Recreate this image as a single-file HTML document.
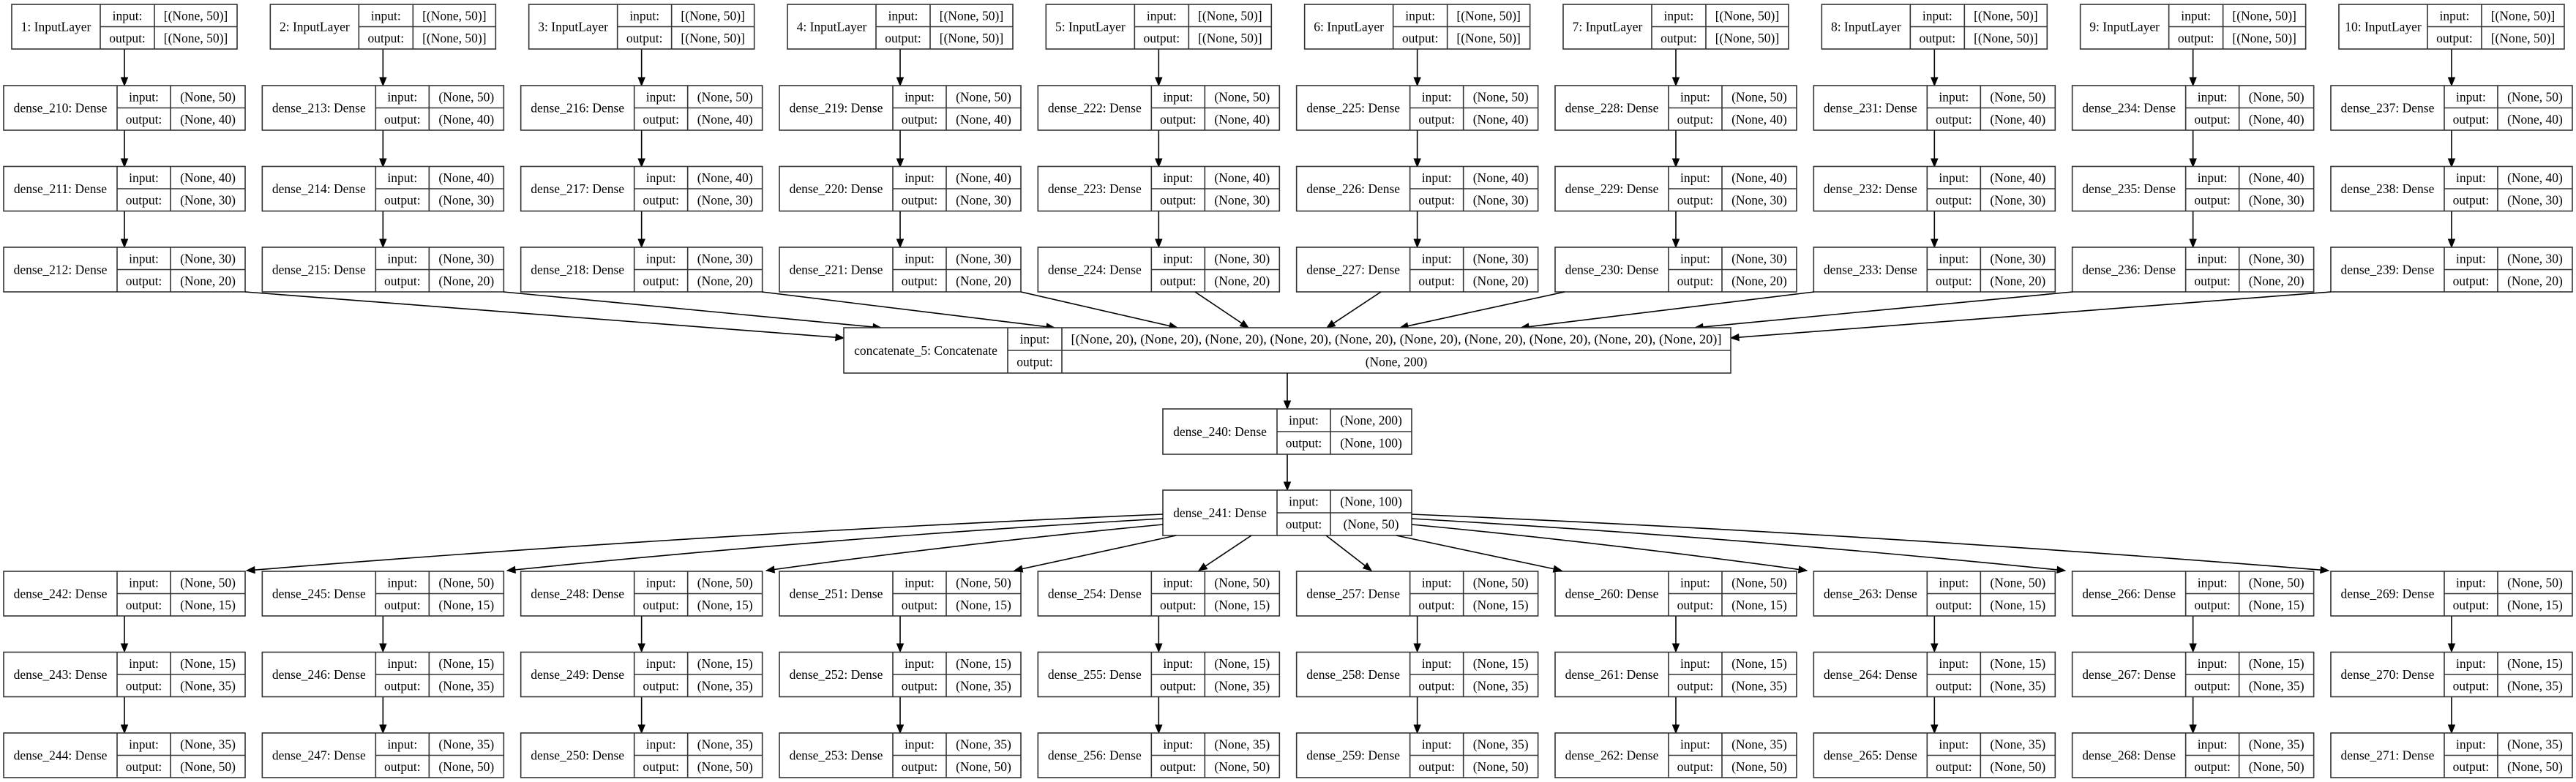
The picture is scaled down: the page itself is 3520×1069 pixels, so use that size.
<!DOCTYPE html>
<html><head><meta charset="utf-8"><style>
html,body{margin:0;padding:0;background:#fff;}
svg{display:block;}
text{font-family:"Liberation Serif",serif;font-size:17.5px;fill:#000;}
</style></head><body>
<svg id="s" width="3520" height="1069" xmlns="http://www.w3.org/2000/svg"></svg>
<script>
const s=document.getElementById('s');let h='';
const R=(x,y,w,hh)=>h+=`<rect x="${x}" y="${y}" width="${w}" height="${hh}" fill="#fff" stroke="#333" stroke-width="1.6"/>`;
const L=(x1,y1,x2,y2)=>h+=`<line x1="${x1}" y1="${y1}" x2="${x2}" y2="${y2}" stroke="#333" stroke-width="1.6"/>`;
const T=(x,y,t,len)=>h+=`<text x="${x}" y="${y}" text-anchor="middle" dominant-baseline="central"${len?` textLength="${len}" lengthAdjust="spacingAndGlyphs"`:''}>${t}</text>`;
function node(x,y,w,d1,d2,label,a,b,hh){hh=hh||61;R(x,y,w,hh);L(x+d1,y,x+d1,y+hh);L(x+d2,y,x+d2,y+hh);L(x+d1,y+hh/2,x+w,y+hh/2);
T(x+d1/2,y+hh/2,label);T(x+(d1+d2)/2,y+hh/4,'input:');T(x+(d1+d2)/2,y+3*hh/4,'output:');T(x+(d2+w)/2,y+hh/4,a);T(x+(d2+w)/2,y+3*hh/4,b);}
function head(x1,y1,x2,y2){const dx=x2-x1,dy=y2-y1,l=Math.hypot(dx,dy),ux=dx/l,uy=dy/l,bx=x2-ux*11,by=y2-uy*11;
h+=`<polygon points="${x2},${y2} ${bx-uy*4.5},${by+ux*4.5} ${bx+uy*4.5},${by-ux*4.5}" fill="#000" stroke="#000" stroke-width="1"/>`;}
function arrow(x1,y1,x2,y2,bend){bend=bend||0;const mx=(x1+x2)/2,my=(y1+y2)/2-bend;
if(bend){h+=`<path d="M${x1},${y1} Q${mx},${my} ${x2},${y2}" fill="none" stroke="#000" stroke-width="1.6"/>`;head(mx,my,x2,y2);}
else{const dx=x2-x1,dy=y2-y1,l=Math.hypot(dx,dy);h+=`<line x1="${x1}" y1="${y1}" x2="${x2-dx/l*9}" y2="${y2-dy/l*9}" stroke="#000" stroke-width="1.6"/>`;head(x1,y1,x2,y2);}}
const P=353.33;
const topV=[[50,40],[40,30],[30,20]],botV=[[50,15],[15,35],[35,50]];
for(let i=0;i<10;i++){const x=5+P*i;const cx=x+165;
arrow(cx,67,cx,117);arrow(cx,178,cx,228);arrow(cx,288,cx,338);
arrow(cx,842,cx,891);arrow(cx,952,cx,1002);
node(x+11,6,308,121,195,(i+1)+': InputLayer','[(None, 50)]','[(None, 50)]');
for(let r=0;r<3;r++){node(x,117+r*110.5,330,155,228,'dense_'+(210+i*3+r)+': Dense','(None, '+topV[r][0]+')','(None, '+topV[r][1]+')');}
for(let r=0;r<3;r++){node(x,781+r*110.5,330,155,228,'dense_'+(242+i*3+r)+': Dense','(None, '+botV[r][0]+')','(None, '+botV[r][1]+')');}
}
// edges into concat
const tin=[[335,399,1153,462],[688,399,1204,448],[1041,399,1441,448],[1395,399,1609,448],[1633,399,1706,448],[1887,399,1813,448],[2138,399,1913,448],[2479,399,2078,448],[2832,399,2316,448],[3185,399,2365,462]];
tin.forEach(e=>arrow(e[0],e[1],e[2],e[3],0));
// concat
R(1153,448,1212,62);L(1377,448,1377,510);L(1451,448,1451,510);L(1377,479,2365,479);
T(1265,479,'concatenate_5: Concatenate');T(1414,463.5,'input:');T(1414,494.5,'output:');
T(1908,463.5,'[(None, 20), (None, 20), (None, 20), (None, 20), (None, 20), (None, 20), (None, 20), (None, 20), (None, 20), (None, 20)]',889);
T(1908,494.5,'(None, 200)');
arrow(1759,510,1759,559);arrow(1759,621,1759,670);
node(1589,559,340,156,229,'dense_240: Dense','(None, 200)','(None, 100)',62);
node(1589,670,340,156,229,'dense_241: Dense','(None, 100)','(None, 50)',62);
const bo=[[1589,703,337,780,12],[1589,709,693,780,10],[1589,717,1047,780,6],[1607,732,1386,780,0],[1710,732,1638,780,0],[1812,732,1874,780,0],[1908,732,2134,780,0],[1929,717,2469,780,6],[1929,709,2822,780,10],[1929,703,3182,780,12]];
bo.forEach(e=>arrow(e[0],e[1],e[2],e[3],e[4]));
s.innerHTML=h;
</script>
</body></html>
